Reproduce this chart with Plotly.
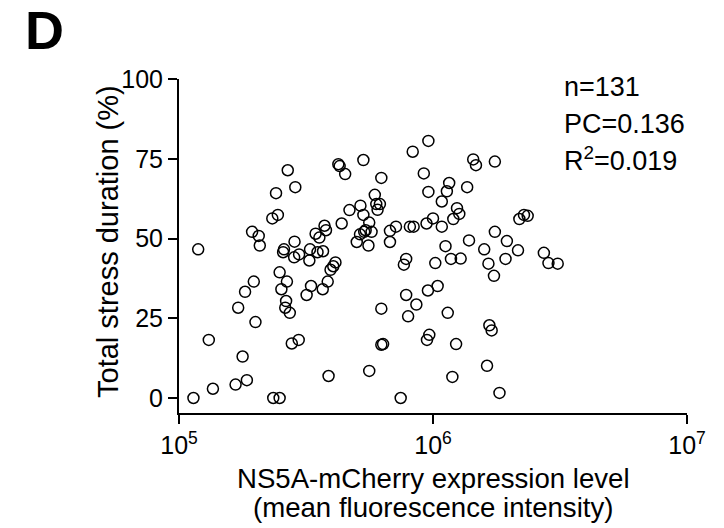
import plotly.graph_objects as go

# NS5A-mCherry expression level (mean fluorescence intensity)
expression = [
    1.14e5, 1.19e5, 1.31e5, 1.36e5, 1.67e5, 1.71e5, 1.78e5, 1.82e5, 1.85e5, 1.94e5,
    1.97e5, 2.00e5, 2.06e5, 2.08e5, 2.33e5, 2.35e5, 2.41e5, 2.45e5, 2.49e5, 2.49e5,
    2.53e5, 2.57e5, 2.59e5, 2.62e5, 2.64e5, 2.66e5, 2.68e5, 2.73e5, 2.78e5, 2.85e5,
    2.87e5, 2.84e5, 2.96e5, 2.97e5, 3.18e5, 3.26e5, 3.28e5, 3.31e5, 3.45e5, 3.51e5,
    3.57e5, 3.68e5, 3.69e5, 3.74e5, 3.79e5, 3.85e5, 3.88e5, 3.95e5, 4.05e5, 4.13e5,
    4.24e5, 4.29e5, 4.37e5, 4.51e5, 4.69e5, 5.01e5, 5.16e5, 5.18e5, 5.32e5, 5.32e5,
    5.36e5, 5.43e5, 5.57e5, 5.61e5, 5.61e5, 5.73e5, 5.90e5, 5.98e5, 6.05e5, 6.18e5,
    6.26e5, 6.26e5, 6.26e5, 6.36e5, 6.77e5, 6.77e5, 7.15e5, 7.46e5, 7.68e5, 7.84e5,
    7.84e5, 7.98e5, 8.11e5, 8.32e5, 8.39e5, 8.60e5, 9.20e5, 9.43e5, 9.47e5, 9.55e5,
    9.59e5, 9.59e5, 9.67e5, 1.000e6, 1.021e6, 1.043e6, 1.083e6, 1.083e6, 1.120e6, 1.134e6,
    1.143e6, 1.158e6, 1.177e6, 1.192e6, 1.202e6, 1.233e6, 1.243e6, 1.269e6, 1.285e6, 1.363e6,
    1.386e6, 1.440e6, 1.476e6, 1.591e6, 1.632e6, 1.653e6, 1.667e6, 1.702e6, 1.738e6, 1.752e6,
    1.752e6, 1.827e6, 1.930e6, 1.954e6, 2.161e6, 2.188e6, 2.281e6, 2.359e6, 2.732e6, 2.848e6,
    3.097e6,
]

# Total stress duration (%)
stress_duration = [
    0.0, 46.6, 18.2, 2.9, 4.2, 28.3, 13.0, 33.3, 5.6, 52.1,
    36.5, 23.8, 50.8, 47.8, 56.3, 0.0, 64.2, 57.4, 0.0, 39.4,
    34.1, 45.7, 46.6, 28.3, 30.4, 36.5, 71.4, 26.7, 17.1, 49.0,
    66.1, 44.1, 18.2, 45.0, 32.3, 43.1, 46.6, 35.1, 51.5, 45.7,
    50.3, 34.1, 46.0, 54.0, 52.6, 36.5, 6.9, 40.2, 41.3, 42.5,
    73.3, 72.7, 54.7, 70.2, 58.9, 48.9, 51.3, 60.3, 74.6, 57.4,
    52.1, 52.6, 47.8, 55.0, 8.5, 52.1, 63.7, 60.8, 59.0, 60.8,
    69.0, 28.0, 16.7, 16.9, 48.9, 52.4, 53.7, 0.0, 41.8, 43.6,
    32.3, 25.6, 53.7, 77.2, 53.7, 29.3, 70.4, 54.7, 18.2, 33.7,
    80.6, 64.6, 19.8, 56.3, 42.3, 35.1, 61.6, 53.7, 47.6, 64.8,
    26.7, 67.4, 43.6, 6.6, 56.1, 16.9, 59.5, 57.7, 43.7, 66.1,
    49.4, 74.8, 73.0, 46.6, 10.1, 42.1, 22.8, 21.2, 38.3, 52.1,
    74.1, 1.6, 43.6, 49.2, 46.3, 56.1, 57.4, 57.1, 45.5, 42.3,
    42.1,
]

x_tick_vals = [1e5, 1e6, 1e7]
x_tick_text = ["10<sup>5</sup>", "10<sup>6</sup>", "10<sup>7</sup>"]
y_tick_vals = [0, 25, 50, 75, 100]
y_tick_text = ["0", "25", "50", "75", "100"]

stats_lines = ["n=131", "PC=0.136", "R<sup>2</sup>=0.019"]
x_title_lines = ["NS5A-mCherry expression level", "(mean fluorescence intensity)"]
y_title = "Total stress duration (%)"
panel_label = "D"

FONT = "Liberation Sans, Arial, Helvetica, sans-serif"

fig = go.Figure()
fig.add_trace(go.Scatter(
    x=expression, y=stress_duration, mode="markers",
    marker=dict(symbol="circle-open", size=11, color="black", line=dict(width=1.5, color="black")),
    showlegend=False, hoverinfo="x+y",
))

fig.update_layout(
    width=724, height=528,
    margin=dict(l=179, r=37, t=79, b=115, autoexpand=False),
    paper_bgcolor="white", plot_bgcolor="white",
    font=dict(family=FONT, color="black", size=25),
    xaxis=dict(
        type="log", range=[5, 7], tickvals=x_tick_vals, ticktext=x_tick_text,
        showline=True, linewidth=2, linecolor="black", showgrid=False, zeroline=False,
        ticks="outside", ticklen=9, tickwidth=2, tickcolor="black",
        tickfont=dict(size=25, family=FONT, color="black"),
    ),
    yaxis=dict(
        range=[-4.7, 100], tickvals=y_tick_vals, ticktext=y_tick_text,
        showline=True, linewidth=2, linecolor="black", showgrid=False, zeroline=False,
        ticks="outside", ticklen=9, tickwidth=2, tickcolor="black",
        tickfont=dict(size=25, family=FONT, color="black"),
    ),
)

annos = []
# Panel label
annos.append(dict(text="<b>%s</b>" % panel_label, xref="paper", yref="paper",
                  x=-0.307, y=1.146, xanchor="left", yanchor="middle", showarrow=False,
                  font=dict(size=54, family=FONT, color="black")))
# Stats
for txt, yy in zip(stats_lines, [0.976, 0.865, 0.760]):
    annos.append(dict(text=txt, xref="paper", yref="paper", x=0.754, y=yy,
                      xanchor="left", yanchor="middle", showarrow=False,
                      font=dict(size=27, family=FONT, color="black")))
# X title (two lines)
for txt, yy in zip(x_title_lines, [-0.1976, -0.284]):
    annos.append(dict(text=txt, xref="paper", yref="paper", x=0.5, y=yy,
                      xanchor="center", yanchor="middle", showarrow=False,
                      font=dict(size=27.6, family=FONT, color="black")))
# Y title
annos.append(dict(text=y_title, xref="paper", yref="paper", x=-0.1398, y=0.515,
                  xanchor="center", yanchor="middle", textangle=-90, showarrow=False,
                  font=dict(size=29, family=FONT, color="black")))
fig.update_layout(annotations=annos)

fig.write_html("out.html", config={"displayModeBar": False},
               post_script="document.body.style.margin='0px';")
